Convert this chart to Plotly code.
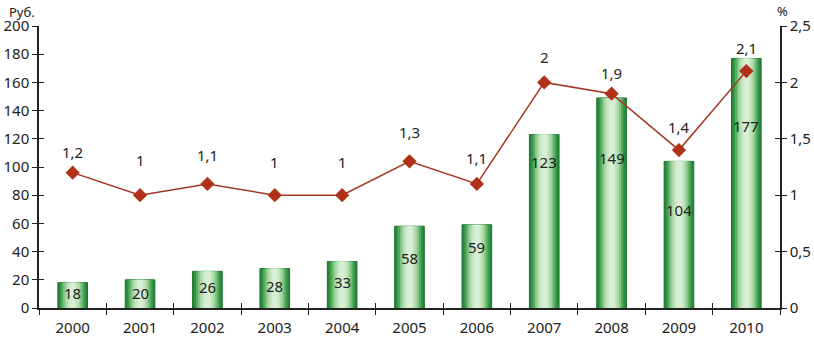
import plotly.graph_objects as go

years = ["2000", "2001", "2002", "2003", "2004", "2005", "2006", "2007", "2008", "2009", "2010"]
rub_values = [18, 20, 26, 28, 33, 58, 59, 123, 149, 104, 177]
pct_values = [1.2, 1.0, 1.1, 1.0, 1.0, 1.3, 1.1, 2.0, 1.9, 1.4, 2.1]
pct_labels = ["1,2", "1", "1,1", "1", "1", "1,3", "1,1", "2", "1,9", "1,4", "2,1"]

# styling: label pixel offsets (as in the reference)
bar_label_shift = [2, 1, 3, 2, 3, 9, 19, 59, 45, 25, 57]
line_label_shift = [21, 35, 29, 33, 33, 29, 26, 25, 21, 23, 23]

FONT = "Noto Sans"
TXT = "#222222"

fig = go.Figure()

# gradient bars simulated with overlaid bars of decreasing width
layers = [
    (0.44, "#26843a", dict(color="#1d7430", width=1)),
    (0.39, "#349443", None),
    (0.34, "#55ab5f", None),
    (0.28, "#84c587", None),
    (0.22, "#abd9a9", None),
    (0.15, "#c7e7c3", None),
    (0.08, "#d8efd4", None),
]
for w, c, ln in layers:
    marker = dict(color=c, line=ln if ln else dict(width=0))
    fig.add_trace(go.Bar(x=years, y=rub_values, width=w, marker=marker,
                         hoverinfo="skip", showlegend=False))

fig.add_trace(go.Scatter(
    x=years, y=pct_values, yaxis="y2", mode="lines+markers",
    line=dict(color="#a3361f", width=1.5),
    marker=dict(symbol="diamond", size=11, color="#b0301a"),
    showlegend=False))

# invisible traces for the inner half of crossing ticks
fig.add_trace(go.Scatter(x=years, y=rub_values, yaxis="y3", mode="none",
                         showlegend=False, hoverinfo="skip"))
fig.add_trace(go.Scatter(x=years, y=pct_values, yaxis="y4", mode="none",
                         showlegend=False, hoverinfo="skip"))
fig.add_trace(go.Scatter(x=years, y=rub_values, xaxis="x2", mode="none",
                         showlegend=False, hoverinfo="skip"))

LBL = dict(family=FONT, size=15, color=TXT)
annotations = []
for i, (v, s) in enumerate(zip(rub_values, bar_label_shift)):
    annotations.append(dict(x=i, y=v / 2, yref="y", xref="x", text=str(v),
                            showarrow=False, yshift=s, yanchor="middle", font=LBL))
for i, (v, t, s) in enumerate(zip(pct_values, pct_labels, line_label_shift)):
    annotations.append(dict(x=i, y=v, yref="y2", xref="x", text=t,
                            showarrow=False, yshift=s, yanchor="middle", font=LBL))
annotations.append(dict(x=-0.023, y=1.05, xref="paper", yref="paper", text="Руб.",
                        xanchor="center", yanchor="middle",
                        showarrow=False, font=dict(family=FONT, size=13, color=TXT)))
annotations.append(dict(x=1.004, y=1.052, xref="paper", yref="paper", text="%",
                        xanchor="center", yanchor="middle",
                        showarrow=False, font=dict(family=FONT, size=13, color=TXT)))

axis_font = dict(family=FONT, size=15, color=TXT)
fig.update_layout(
    width=814, height=340,
    margin=dict(l=39, r=34, t=26, b=32, autoexpand=False),
    plot_bgcolor="white", paper_bgcolor="white",
    barmode="overlay",
    separators=", ",
    annotations=annotations,
    xaxis=dict(type="category", categoryorder="array", categoryarray=years,
               range=[-0.5, len(years) - 0.5], automargin=False,
               showline=True, linecolor="#222", linewidth=1.5,
               ticks="outside", ticklen=5, tickcolor="#222", tickson="boundaries",
               ticklabelstandoff=5,
               showgrid=False, tickfont=axis_font, zeroline=False),
    xaxis2=dict(type="category", categoryorder="array", categoryarray=years,
                range=[-0.5, len(years) - 0.5], overlaying="x", anchor="y", side="bottom",
                automargin=False,
                showline=False, ticks="inside", ticklen=5, tickcolor="#222",
                tickson="boundaries", showticklabels=False, showgrid=False, zeroline=False),
    yaxis=dict(range=[0, 200], dtick=20, showline=True, linecolor="#222", linewidth=1.5,
               ticks="outside", ticklen=5, tickcolor="#222", showgrid=False,
               automargin=False, tickfont=axis_font, zeroline=False),
    yaxis3=dict(range=[0, 200], dtick=20, overlaying="y", anchor="x", side="left",
                automargin=False,
                showline=False, ticks="inside", ticklen=5, tickcolor="#222",
                showticklabels=False, showgrid=False, zeroline=False),
    yaxis2=dict(range=[0, 2.5], dtick=0.5, overlaying="y", anchor="x", side="right",
                automargin=False,
                showline=True, linecolor="#222", linewidth=1.5, ticks="outside", ticklen=5,
                tickcolor="#222", showgrid=False, tickfont=axis_font, zeroline=False),
    yaxis4=dict(range=[0, 2.5], dtick=0.5, overlaying="y", anchor="x", side="right",
                automargin=False,
                showline=False, ticks="inside", ticklen=5, tickcolor="#222",
                showticklabels=False, showgrid=False, zeroline=False),
)

fig.write_html("out.html", config={"displayModeBar": False},
               post_script="document.body.style.margin='0';")
